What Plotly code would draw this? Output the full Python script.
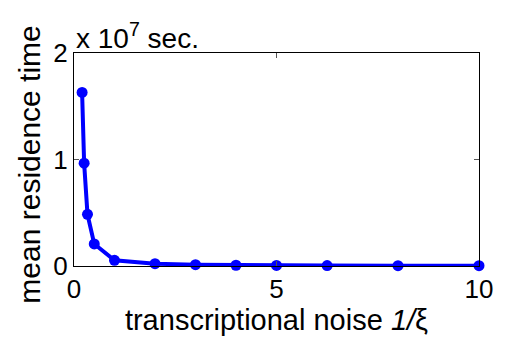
import plotly.graph_objects as go

# transcriptional noise 1/xi and mean residence time (units of 1e7 sec.)
noise = [0.2, 0.25, 0.333, 0.5, 1, 2, 3, 4, 5, 6.25, 8, 10]
residence = [1.63, 0.965, 0.485, 0.207, 0.053, 0.022, 0.012, 0.007, 0.005, 0.004, 0.003, 0.003]

x_ticks = [0, 5, 10]
y_ticks = [0, 1, 2]

font = "Liberation Sans, Arial, Helvetica, sans-serif"

fig = go.Figure()
fig.add_trace(go.Scatter(
    x=noise, y=residence, mode="lines+markers",
    line=dict(color="#0000ff", width=4),
    marker=dict(color="#0000ff", size=11),
    cliponaxis=False,
))

axis_common = dict(
    showline=True, linecolor="black", linewidth=1.3, mirror="ticks",
    ticks="inside", ticklen=5, tickcolor="#555555", tickwidth=1,
    showgrid=False, zeroline=False,
    tickfont=dict(family=font, size=26, color="black"),
)

fig.update_layout(
    width=505, height=343,
    margin=dict(l=74, r=20, t=53, b=77),
    paper_bgcolor="white", plot_bgcolor="white",
    showlegend=False,
    xaxis=dict(range=[0, 10], tickvals=x_ticks, ticktext=[str(v) for v in x_ticks],
               title=dict(text="transcriptional noise <i>1/</i>ξ", standoff=2,
                          font=dict(family=font, size=29, color="black")),
               **axis_common),
    yaxis=dict(range=[0, 2], tickvals=y_ticks, ticktext=[str(v) for v in y_ticks],
               **axis_common),
    annotations=[
        dict(x=0, y=1, xref="paper", yref="paper", xanchor="left", yanchor="bottom",
             text="x 10<sup>7</sup> sec.", showarrow=False, yshift=-3,
             font=dict(family=font, size=28, color="black")),
        dict(x=-0.112, y=0.474, xref="paper", yref="paper", xanchor="center", yanchor="middle",
             text="mean residence time", textangle=-90, showarrow=False,
             font=dict(family=font, size=30, color="black")),
    ],
)

fig.write_html("out.html")
